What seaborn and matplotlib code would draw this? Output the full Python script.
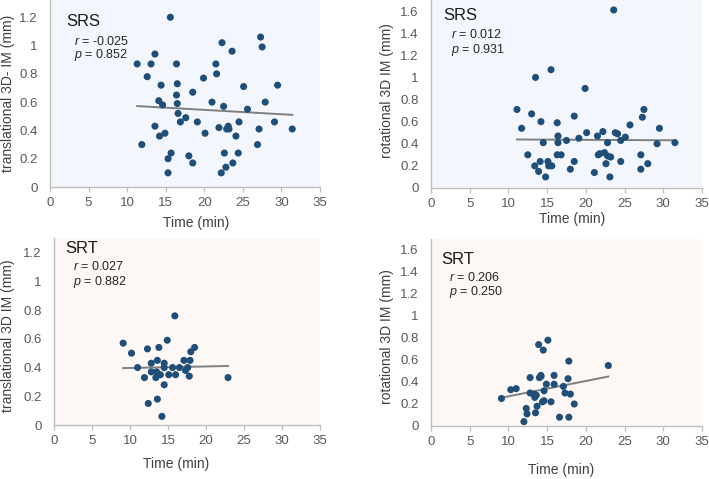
import matplotlib
matplotlib.use("Agg")
import matplotlib.pyplot as plt
import seaborn as sns
from matplotlib.ticker import FuncFormatter

# --- data ---
srs_time_trans = [11.3, 11.9, 12.6, 13.1, 13.6, 13.6, 14.4, 14.1, 14.6, 14.2, 14.9, 15.3, 15.7, 15.3,
                  15.6, 16.4, 16.5, 16.4, 16.5, 16.6, 16.9, 17.6, 18.5, 18.0, 18.5, 19.1, 19.9, 20.1,
                  21.0, 21.5, 21.6, 21.9, 22.3, 22.5, 22.6, 22.2, 22.8, 22.9, 23.1, 23.2, 23.6, 23.7,
                  24.1, 24.4, 24.5, 25.1, 25.6, 26.9, 27.1, 27.3, 27.5, 27.9, 29.1, 29.5, 31.4]
srs_trans = [0.87, 0.30, 0.78, 0.87, 0.94, 0.43, 0.72, 0.61, 0.58, 0.36, 0.38, 0.20, 0.24, 0.10,
             1.20, 0.87, 0.73, 0.65, 0.59, 0.52, 0.46, 0.49, 0.67, 0.22, 0.17, 0.46, 0.77, 0.38,
             0.60, 0.87, 0.80, 0.42, 1.02, 0.57, 0.24, 0.10, 0.14, 0.41, 0.43, 0.41, 0.96, 0.17,
             0.36, 0.24, 0.46, 0.71, 0.55, 0.30, 0.41, 1.06, 0.99, 0.60, 0.46, 0.72, 0.41]

srs_time_rot = [11.1, 11.7, 12.5, 13.0, 13.4, 13.5, 13.9, 14.1, 14.2, 14.5, 14.8, 15.1, 15.2, 15.6,
                15.5, 16.3, 16.4, 16.4, 16.3, 16.8, 17.5, 18.0, 18.5, 18.5, 19.1, 19.9, 20.1, 21.1,
                21.5, 21.6, 21.8, 22.2, 22.4, 22.6, 22.8, 22.8, 23.1, 23.2, 23.6, 23.8, 24.1, 24.5,
                24.5, 25.1, 25.7, 27.1, 27.1, 27.3, 27.5, 28.0, 29.2, 29.5, 31.5]
srs_rot = [0.71, 0.54, 0.30, 0.67, 0.20, 1.00, 0.15, 0.24, 0.60, 0.41, 0.10, 0.24, 0.20, 0.20,
           1.07, 0.59, 0.47, 0.41, 0.30, 0.30, 0.43, 0.17, 0.65, 0.24, 0.45, 0.90, 0.50, 0.14,
           0.47, 0.30, 0.31, 0.51, 0.32, 0.22, 0.29, 0.41, 0.10, 0.28, 1.61, 0.50, 0.49, 0.24,
           0.43, 0.46, 0.57, 0.17, 0.30, 0.64, 0.71, 0.22, 0.40, 0.54, 0.41]

srt_time_trans = [9.1, 10.2, 11.0, 11.9, 12.3, 12.4, 12.8, 12.8, 13.4, 13.5, 13.6, 13.6, 13.8, 13.8,
                  14.0, 14.2, 14.5, 14.5, 14.5, 14.9, 15.1, 15.6, 15.9, 16.0, 16.5, 17.1, 17.3, 17.6,
                  17.8, 17.9, 18.0, 18.5, 22.9]
srt_trans = [0.57, 0.50, 0.40, 0.33, 0.53, 0.15, 0.43, 0.37, 0.33, 0.37, 0.18, 0.45, 0.54, 0.35,
             0.35, 0.06, 0.43, 0.40, 0.28, 0.59, 0.35, 0.40, 0.76, 0.35, 0.40, 0.45, 0.38, 0.40,
             0.34, 0.45, 0.51, 0.54, 0.33]

srt_time_rot = [9.1, 10.3, 11.0, 12.0, 12.3, 12.4, 12.8, 12.8, 13.3, 13.4, 13.5, 13.6, 13.7, 13.9,
                14.0, 14.2, 14.2, 14.4, 14.5, 14.6, 14.6, 14.9, 15.1, 15.5, 15.9, 15.9, 16.6, 17.1,
                17.3, 17.7, 17.8, 17.8, 18.0, 18.5, 22.9]
srt_rot = [0.25, 0.33, 0.34, 0.04, 0.16, 0.11, 0.44, 0.30, 0.29, 0.26, 0.12, 0.28, 0.18, 0.74,
           0.44, 0.46, 0.45, 0.22, 0.69, 0.32, 0.23, 0.38, 0.78, 0.22, 0.46, 0.38, 0.08, 0.36,
           0.30, 0.43, 0.59, 0.08, 0.29, 0.20, 0.55]

group_labels = ["SRS", "SRS", "SRT", "SRT"]
r_values = ["-0.025", "0.012", "0.027", "0.206"]
p_values = ["0.852", "0.931", "0.882", "0.250"]
y_labels = ["translational 3D- IM (mm)", "rotational 3D IM (mm)",
            "translational 3D IM (mm)", "rotational 3D IM (mm)"]
x_ticks = [0, 5, 10, 15, 20, 25, 30, 35]
y_ticks_trans = [0, 0.2, 0.4, 0.6, 0.8, 1, 1.2]
y_ticks_rot = [0, 0.2, 0.4, 0.6, 0.8, 1, 1.2, 1.4, 1.6]

plt.rcParams['font.family'] = ['Liberation Sans', 'DejaVu Sans']
plt.rcParams['mathtext.fontset'] = 'custom'
plt.rcParams['mathtext.it'] = 'Liberation Sans:italic'
plt.rcParams['mathtext.rm'] = 'Liberation Sans'

W, H = 709, 479
fig = plt.figure(figsize=(W / 100, H / 100), dpi=100)


def box(left, right, top, bottom):
    return [left / W, 1 - bottom / H, (right - left) / W, (bottom - top) / H]


panels = [
    dict(rect=box(50, 320, 0, 187), x=srs_time_trans, y=srs_trans, ymax=1.322, yt=y_ticks_trans,
         bg='#F3F6FC', lab=(0.06, 0.884), rp=(0.089, 0.777, 0.706), ylc=(-0.128, 0.5), xlc=(0.54, -0.155)),
    dict(rect=box(431, 702, 0, 188), x=srs_time_rot, y=srs_rot, ymax=1.70, yt=y_ticks_rot,
         bg='#F3F6FC', lab=(0.045, 0.915), rp=(0.073, 0.817, 0.734), ylc=(-0.138, 0.52), xlc=(0.52, -0.128)),
    dict(rect=box(54, 320, 238, 425), x=srt_time_trans, y=srt_trans, ymax=1.302, yt=y_ticks_trans,
         bg='#FDF8F5', lab=(0.041, 0.945), rp=(0.070, 0.847, 0.766), ylc=(-0.148, 0.48), xlc=(0.46, -0.171)),
    dict(rect=box(431, 702, 239, 426), x=srt_time_rot, y=srt_rot, ymax=1.70, yt=y_ticks_rot,
         bg='#FDF8F5', lab=(0.039, 0.891), rp=(0.068, 0.793, 0.715), ylc=(-0.138, 0.48), xlc=(0.48, -0.198)),
]

for i, p in enumerate(panels):
    ax = fig.add_axes(p['rect'])
    ax.set_facecolor(p['bg'])
    sns.regplot(x=p['x'], y=p['y'], ax=ax, ci=None, truncate=True,
                scatter_kws=dict(s=26, color='#1F4E79', edgecolor='none', alpha=1, zorder=3),
                line_kws=dict(color='#7F7F7F', lw=1.4, zorder=2))
    ax.set_xlim(0, 35)
    ax.set_ylim(0, p['ymax'])
    ax.set_xticks(x_ticks)
    ax.set_yticks(p['yt'])
    ax.yaxis.set_major_formatter(FuncFormatter(lambda v, pos: f"{v:g}"))
    for s in ['top', 'right']:
        ax.spines[s].set_visible(False)
    for s in ['left', 'bottom']:
        ax.spines[s].set_color('#BFBFBF')
        ax.spines[s].set_linewidth(1.0)
    ax.tick_params(axis='x', direction='out', length=3.5, width=0.9, color='#BFBFBF',
                   labelsize=9.5, labelcolor='#595959', pad=4)
    ax.tick_params(axis='y', length=0, labelsize=9.5, labelcolor='#595959', pad=9)
    ax.set_ylabel(y_labels[i], fontsize=10, color='#404040')
    ax.yaxis.set_label_coords(*p['ylc'])
    ax.set_xlabel("Time (min)", fontsize=10, color='#404040')
    ax.xaxis.set_label_coords(*p['xlc'])
    ax.text(p['lab'][0], p['lab'][1], group_labels[i], transform=ax.transAxes,
            fontsize=12, color='#1A1A1A', va='center', ha='left')
    ax.text(p['rp'][0], p['rp'][1], f"$r$ = {r_values[i]}", transform=ax.transAxes,
            fontsize=9, color='#262626', va='center', ha='left')
    ax.text(p['rp'][0], p['rp'][2], f"$p$ = {p_values[i]}", transform=ax.transAxes,
            fontsize=9, color='#262626', va='center', ha='left')

fig.savefig("out.png", dpi=100)
